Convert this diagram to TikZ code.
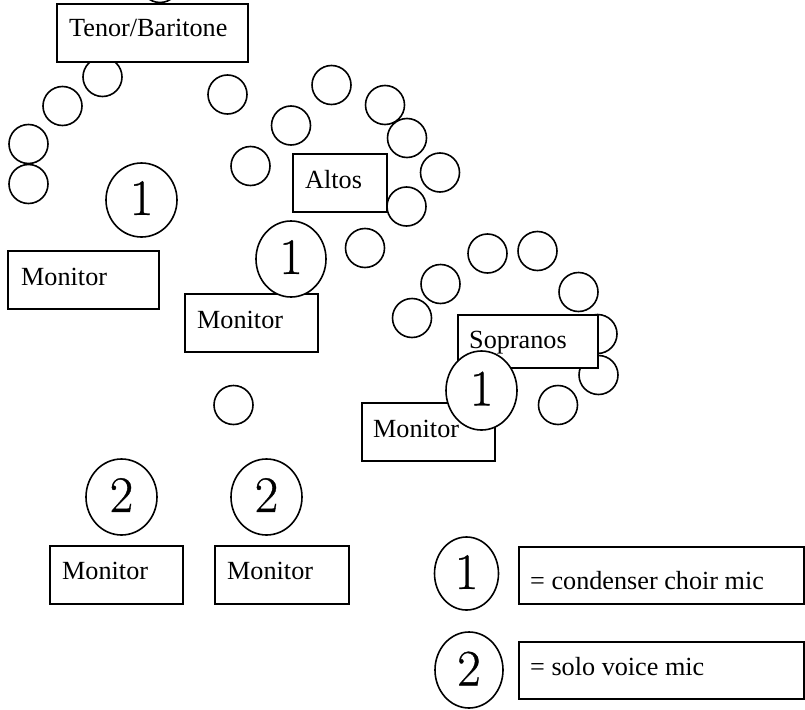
\documentclass[tikz,border=0pt]{standalone}
\usepackage{fontspec}
\setmainfont{Liberation Serif}
\newfontfamily\digitfont[FakeBold=0.7]{Latin Modern Roman}
\usetikzlibrary{shapes.geometric}
\newcommand\lbox[8]{%
  \node[boxst, minimum width=#4pt, minimum height=#5pt] (#1) at (#2,#3) {};
  \node[lblst] (#1t) at ([xshift=#6pt,yshift=-#7pt]#1.north west) {#8};}
\begin{document}
\begin{tikzpicture}[x=1pt,y=-1pt,
  singer/.style={circle, draw, fill=white, line width=1.6pt, minimum size=39pt, inner sep=0pt},
  boxst/.style={rectangle, draw, fill=white, line width=1.6pt, inner sep=0pt, anchor=north west},
  lblst/.style={anchor=base west, inner sep=0pt, font=\fontsize{26.2}{30}\selectfont},
  micst/.style={ellipse, draw, fill=white, line width=1.6pt, inner sep=0pt, font=\digitfont\fontsize{51}{60}\selectfont}
]
\clip (0,0) rectangle (805,709);
\fill[white] (0,0) rectangle (805,709);
% tenor/baritone singers
\node[singer] (s0) at (160,-17) {};
\node[singer] (s2) at (102.5,77) {};
\node[singer] (s3) at (62.5,106) {};
\node[singer] (s4) at (28.5,144) {};
\node[singer] (s5) at (28.5,184) {};
\node[singer] (s6) at (227.5,94.5) {};
\node[singer] (s7) at (250.5,166) {};
% altos
\node[singer] (s8) at (331.5,85) {};
\node[singer] (s9) at (291,125.5) {};
\node[singer] (s10) at (385,105) {};
\node[singer] (s11) at (407,138) {};
\node[singer] (s12) at (440,172.5) {};
\node[singer] (s13) at (406.5,206.5) {};
\node[singer] (s14) at (365,248) {};
% sopranos
\node[singer] (s15) at (487.5,253.5) {};
\node[singer] (s16) at (537.5,251) {};
\node[singer] (s17) at (440.5,284) {};
\node[singer] (s18) at (412,318) {};
\node[singer] (s19) at (578.5,292) {};
\node[singer] (s20) at (597.5,334) {};
\node[singer] (s21) at (598.5,375) {};
\node[singer] (s22) at (558,405) {};
% soloist
\node[singer] (s23) at (233.5,405) {};
% boxes
\lbox{tenor}{56}{3}{191}{58}{13}{34}{Tenor/Baritone}
\lbox{altos}{292}{153}{94}{58}{13}{35}{Altos}
\lbox{sopr}{457}{314}{140}{53}{12}{34}{Sopranos}
\lbox{m1}{7}{250}{151}{58}{14}{35}{Monitor}
\lbox{m2}{184}{293}{133}{58}{13}{35}{Monitor}
\lbox{m5}{361}{402}{133}{58}{12}{35}{Monitor}
\lbox{m3}{49}{545}{133}{58}{13}{34}{Monitor}
\lbox{m4}{214}{545}{134}{58}{13}{34}{Monitor}
\lbox{leg1}{518}{546}{285}{57}{12}{43}{= condenser choir mic}
\lbox{leg2}{518}{641}{285}{57}{12}{34}{= solo voice mic}
% mics
\node[micst, minimum width=71pt, minimum height=74pt] (mA) at (141.5,200) {\raisebox{4pt}{1}};
\node[micst, minimum width=70pt, minimum height=76pt] (mB) at (291,259) {\raisebox{4pt}{1}};
\node[micst, minimum width=71pt, minimum height=79pt] (mC) at (481.5,390.5) {\raisebox{4pt}{1}};
\node[micst, minimum width=71pt, minimum height=76pt] (mD) at (121.5,497) {\raisebox{4pt}{2}};
\node[micst, minimum width=71pt, minimum height=76pt] (mE) at (266.5,497) {\raisebox{4pt}{2}};
\node[micst, minimum width=64pt, minimum height=73pt] (mL1) at (466.5,573.5) {\raisebox{3pt}{1}};
\node[micst, minimum width=68pt, minimum height=76pt] (mL2) at (469,670) {\raisebox{3pt}{2}};
\end{tikzpicture}
\end{document}
